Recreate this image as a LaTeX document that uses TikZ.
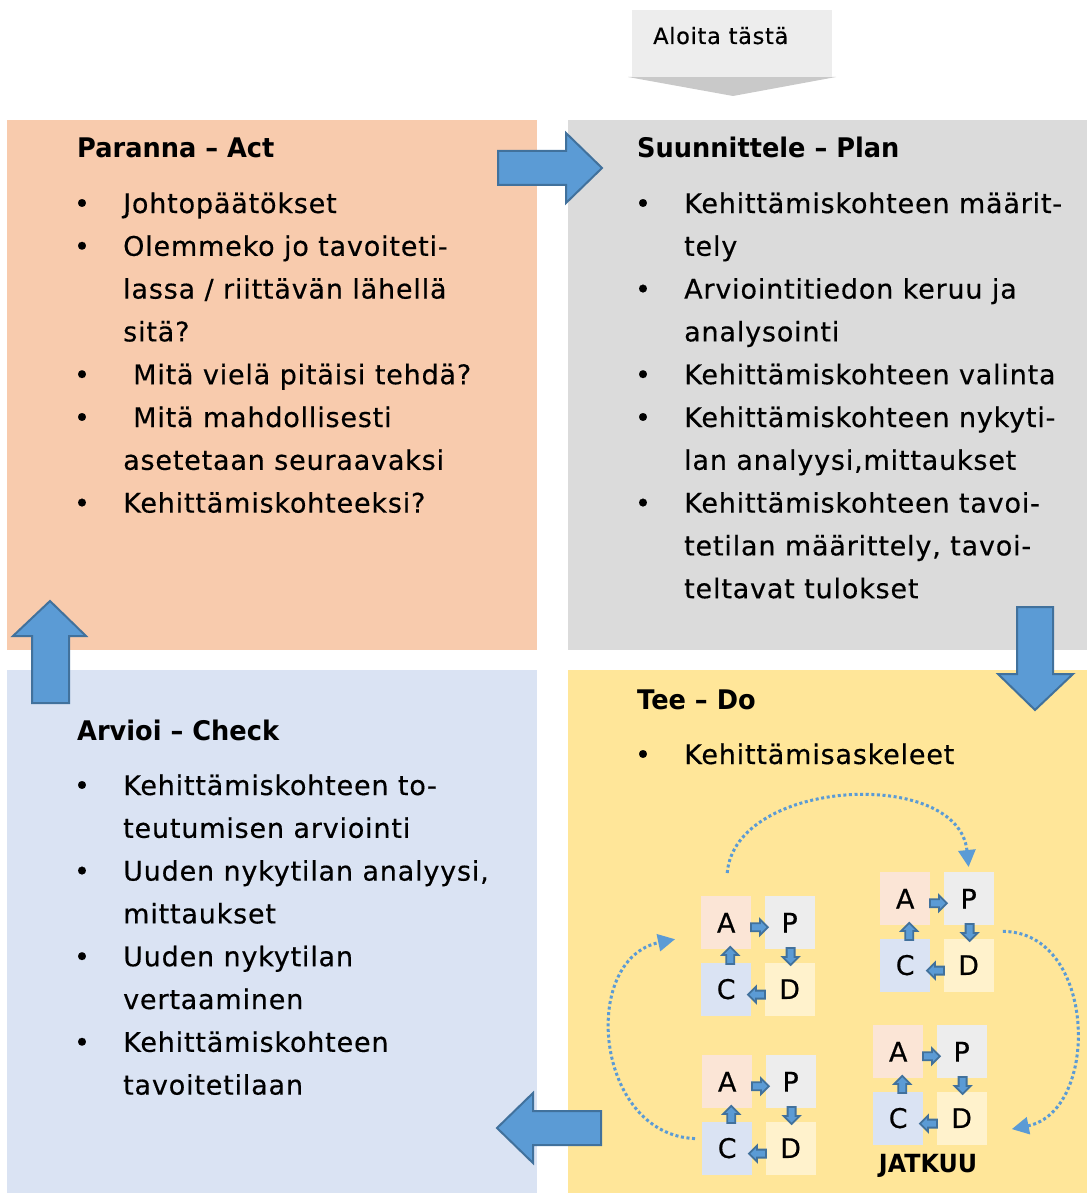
\documentclass[tikz,border=0pt]{standalone}
\usepackage{fontspec}
\setmainfont{DejaVu Sans}[LetterSpace=3, FakeBold=0.4]
\newfontfamily\headfont{DejaVu Sans}[FakeStretch=0.95]
\usetikzlibrary{arrows.meta, positioning, calc}

\definecolor{actfill}{HTML}{F8CBAD}
\definecolor{planfill}{HTML}{DBDBDB}
\definecolor{checkfill}{HTML}{DAE3F3}
\definecolor{dofill}{HTML}{FFE699}
\definecolor{miniA}{HTML}{FBE5D6}
\definecolor{miniP}{HTML}{EDEDED}
\definecolor{miniC}{HTML}{DAE3F3}
\definecolor{miniD}{HTML}{FFF2CC}
\definecolor{arrowblue}{HTML}{5B9BD5}
\definecolor{arrowedge}{HTML}{41719C}
\definecolor{startfill}{HTML}{EDEDED}
\definecolor{startshade}{HTML}{C9C9C9}

\begin{document}
\begin{tikzpicture}[x=1pt, y=-1pt]
    \tikzset{
        phasebox/.style={draw=none, anchor=north west, inner sep=0pt, minimum width=530pt, minimum height=530pt},
        headtext/.style={anchor=base west, inner sep=0pt, font=\headfont\bfseries\fontsize{27pt}{32pt}\selectfont},
        itemtext/.style={anchor=base west, inner sep=0pt, font=\fontsize{27pt}{32pt}\selectfont},
        bulletmark/.style={anchor=base, inner sep=0pt, font=\fontsize{27pt}{32pt}\selectfont},
        minibox/.style={anchor=north west, inner sep=0pt, minimum width=50pt, minimum height=53pt, font=\fontsize{27pt}{30pt}\selectfont},
        blockarrow/.style={fill=arrowblue, draw=arrowedge, line width=2pt, line join=miter},
        looparrow/.style={draw=arrowblue, line width=3pt, dash pattern=on 3pt off 2.6pt, -{Triangle[length=17pt, width=17pt]}},
        minarrow/.pic={\draw[fill=arrowblue, draw=arrowedge, line width=1.8pt]
            (-8,-4) -- (1,-4) -- (1,-8) -- (9,0) -- (1,8) -- (1,4) -- (-8,4) -- cycle;}
    }
    \useasboundingbox (0,0) rectangle (1087,1193);

    % the four phases
    \node[phasebox, fill=actfill] (act) at (7,120) {};
    \node[phasebox, fill=planfill, minimum width=519pt] (plan) at (568,120) {};
    \node[phasebox, fill=checkfill, minimum height=523pt] (check) at (7,670) {};
    \node[phasebox, fill=dofill, minimum width=519pt, minimum height=523pt] (do) at (568,670) {};

    % start label
    \fill[startshade] (628,77) -- (836,77) -- (733,96) -- cycle;
    \node[draw=none, fill=startfill, anchor=north west, minimum width=200pt, minimum height=67pt] (start) at (632,10) {};
    \node[anchor=base west, inner sep=0pt, font=\fontsize{22.5pt}{26pt}\selectfont] (starttext) at (653,44) {Aloita tästä};

    % big arrows between phases
    \draw[blockarrow] (498,151) -- (566,151) -- (566,133) -- (602,168) -- (566,203) -- (566,185) -- (498,185) -- cycle;
    \draw[blockarrow] (1017,607) -- (1053,607) -- (1053,674) -- (1073,674) -- (1035,710) -- (998,674) -- (1017,674) -- cycle;
    \draw[blockarrow] (601,1111) -- (533,1111) -- (533,1093) -- (497,1128) -- (533,1163) -- (533,1145) -- (601,1145) -- cycle;
    \draw[blockarrow] (32,703) -- (32,636) -- (13,636) -- (50,601) -- (86,636) -- (69,636) -- (69,703) -- cycle;

    % Act
    \node[headtext] (acthead) at (77,158) {Paranna – Act};
    \node[bulletmark] (actb1) at (82,213) {•};
    \node[itemtext] (act1) at (123,213) {Johtopäätökset};
    \node[bulletmark] (actb2) at (82,255.8) {•};
    \node[itemtext] (act2) at (123,255.8) {Olemmeko jo tavoiteti-};
    \node[itemtext] (act2b) at (123,298.6) {lassa / riittävän lähellä};
    \node[itemtext] (act2c) at (123,341.4) {sitä?};
    \node[bulletmark] (actb3) at (82,384.2) {•};
    \node[itemtext] (act3) at (123,384.2) {\hspace*{10pt}Mitä vielä pitäisi tehdä?};
    \node[bulletmark] (actb4) at (82,427) {•};
    \node[itemtext] (act4) at (123,427) {\hspace*{10pt}Mitä mahdollisesti};
    \node[itemtext] (act4b) at (123,469.8) {asetetaan seuraavaksi};
    \node[bulletmark] (actb5) at (82,512.6) {•};
    \node[itemtext] (act5) at (123,512.6) {Kehittämiskohteeksi?};

    % Plan
    \node[headtext] (planhead) at (637,158) {Suunnittele – Plan};
    \node[bulletmark] (planb1) at (643,213) {•};
    \node[itemtext] (plan1) at (684,213) {Kehittämiskohteen määrit-};
    \node[itemtext] (plan1b) at (684,255.8) {tely};
    \node[bulletmark] (planb2) at (643,298.6) {•};
    \node[itemtext] (plan2) at (684,298.6) {Arviointitiedon keruu ja};
    \node[itemtext] (plan2b) at (684,341.4) {analysointi};
    \node[bulletmark] (planb3) at (643,384.2) {•};
    \node[itemtext] (plan3) at (684,384.2) {Kehittämiskohteen valinta};
    \node[bulletmark] (planb4) at (643,427) {•};
    \node[itemtext] (plan4) at (684,427) {Kehittämiskohteen nykyti-};
    \node[itemtext] (plan4b) at (684,469.8) {lan analyysi,mittaukset};
    \node[bulletmark] (planb5) at (643,512.6) {•};
    \node[itemtext] (plan5) at (684,512.6) {Kehittämiskohteen tavoi-};
    \node[itemtext] (plan5b) at (684,555.4) {tetilan määrittely, tavoi-};
    \node[itemtext] (plan5c) at (684,598.2) {teltavat tulokset};

    % Do
    \node[headtext] (dohead) at (637,709) {Tee – Do};
    \node[bulletmark] (dob1) at (643,764) {•};
    \node[itemtext] (do1) at (684,764) {Kehittämisaskeleet};

    % Check
    \node[headtext] (checkhead) at (77,740) {Arvioi – Check};
    \node[bulletmark] (checkb1) at (82,795) {•};
    \node[itemtext] (check1) at (123,795) {Kehittämiskohteen to-};
    \node[itemtext] (check1b) at (123,837.8) {teutumisen arviointi};
    \node[bulletmark] (checkb2) at (82,880.6) {•};
    \node[itemtext] (check2) at (123,880.6) {Uuden nykytilan analyysi,};
    \node[itemtext] (check2b) at (123,923.4) {mittaukset};
    \node[bulletmark] (checkb3) at (82,966.2) {•};
    \node[itemtext] (check3) at (123,966.2) {Uuden nykytilan};
    \node[itemtext] (check3b) at (123,1009) {vertaaminen};
    \node[bulletmark] (checkb4) at (82,1051.8) {•};
    \node[itemtext] (check4) at (123,1051.8) {Kehittämiskohteen};
    \node[itemtext] (check4b) at (123,1094.6) {tavoitetilaan};

    % small cycles inside Do
    \foreach \n/\x/\y in {ma/701/896, mb/880/872, mc/702/1055, md/873/1025} {
        \node[minibox, fill=miniA] (\n-a) at (\x,\y) {A};
        \node[minibox, fill=miniP, right=13pt of \n-a] (\n-p) {P};
        \node[minibox, fill=miniC, below=13pt of \n-a] (\n-c) {C};
        \node[minibox, fill=miniD, below=13pt of \n-p] (\n-d) {D};
        \pic at ($(\n-a.east)!0.5!(\n-p.west)+(1,4.5)$) {minarrow};
        \pic[rotate=-90] at ($(\n-p.south)!0.5!(\n-d.north)+(1,0)$) {minarrow};
        \pic[rotate=180] at ($(\n-d.west)!0.5!(\n-c.east)+(-1,5.5)$) {minarrow};
        \pic[rotate=90] at ($(\n-c.north)!0.5!(\n-a.south)+(4,0)$) {minarrow};
    }
    \node[anchor=base, inner sep=0pt, font=\headfont\bfseries\fontsize{25pt}{28pt}\selectfont] (jatkuu) at (928,1172) {JATKUU};

    % dotted loops between the cycles
    \coordinate (loop1s) at ($(ma-a.north)+(1,-23)$);
    \coordinate (loop1e) at ($(mb-p.north)+(0,-5)$);
    \draw[looparrow] (loop1s) .. controls +(8,-95) and +(-10,-100) .. (loop1e);
    \coordinate (loop2s) at ($(mb-p.south east)+(9,6)$);
    \coordinate (loop2e) at ($(md-d.east)+(25,11)$);
    \draw[looparrow] (loop2s) .. controls +(94,0) and +(89,-18) .. (loop2e);
    \coordinate (loop3s) at ($(mc-c.west)+(-7,-9.5)$);
    \coordinate (loop3e) at ($(ma-a.west)+(-26,16.5)$);
    \draw[looparrow] (loop3s) .. controls +(-100,-4) and +(-96,20) .. (loop3e);
\end{tikzpicture}
\end{document}
